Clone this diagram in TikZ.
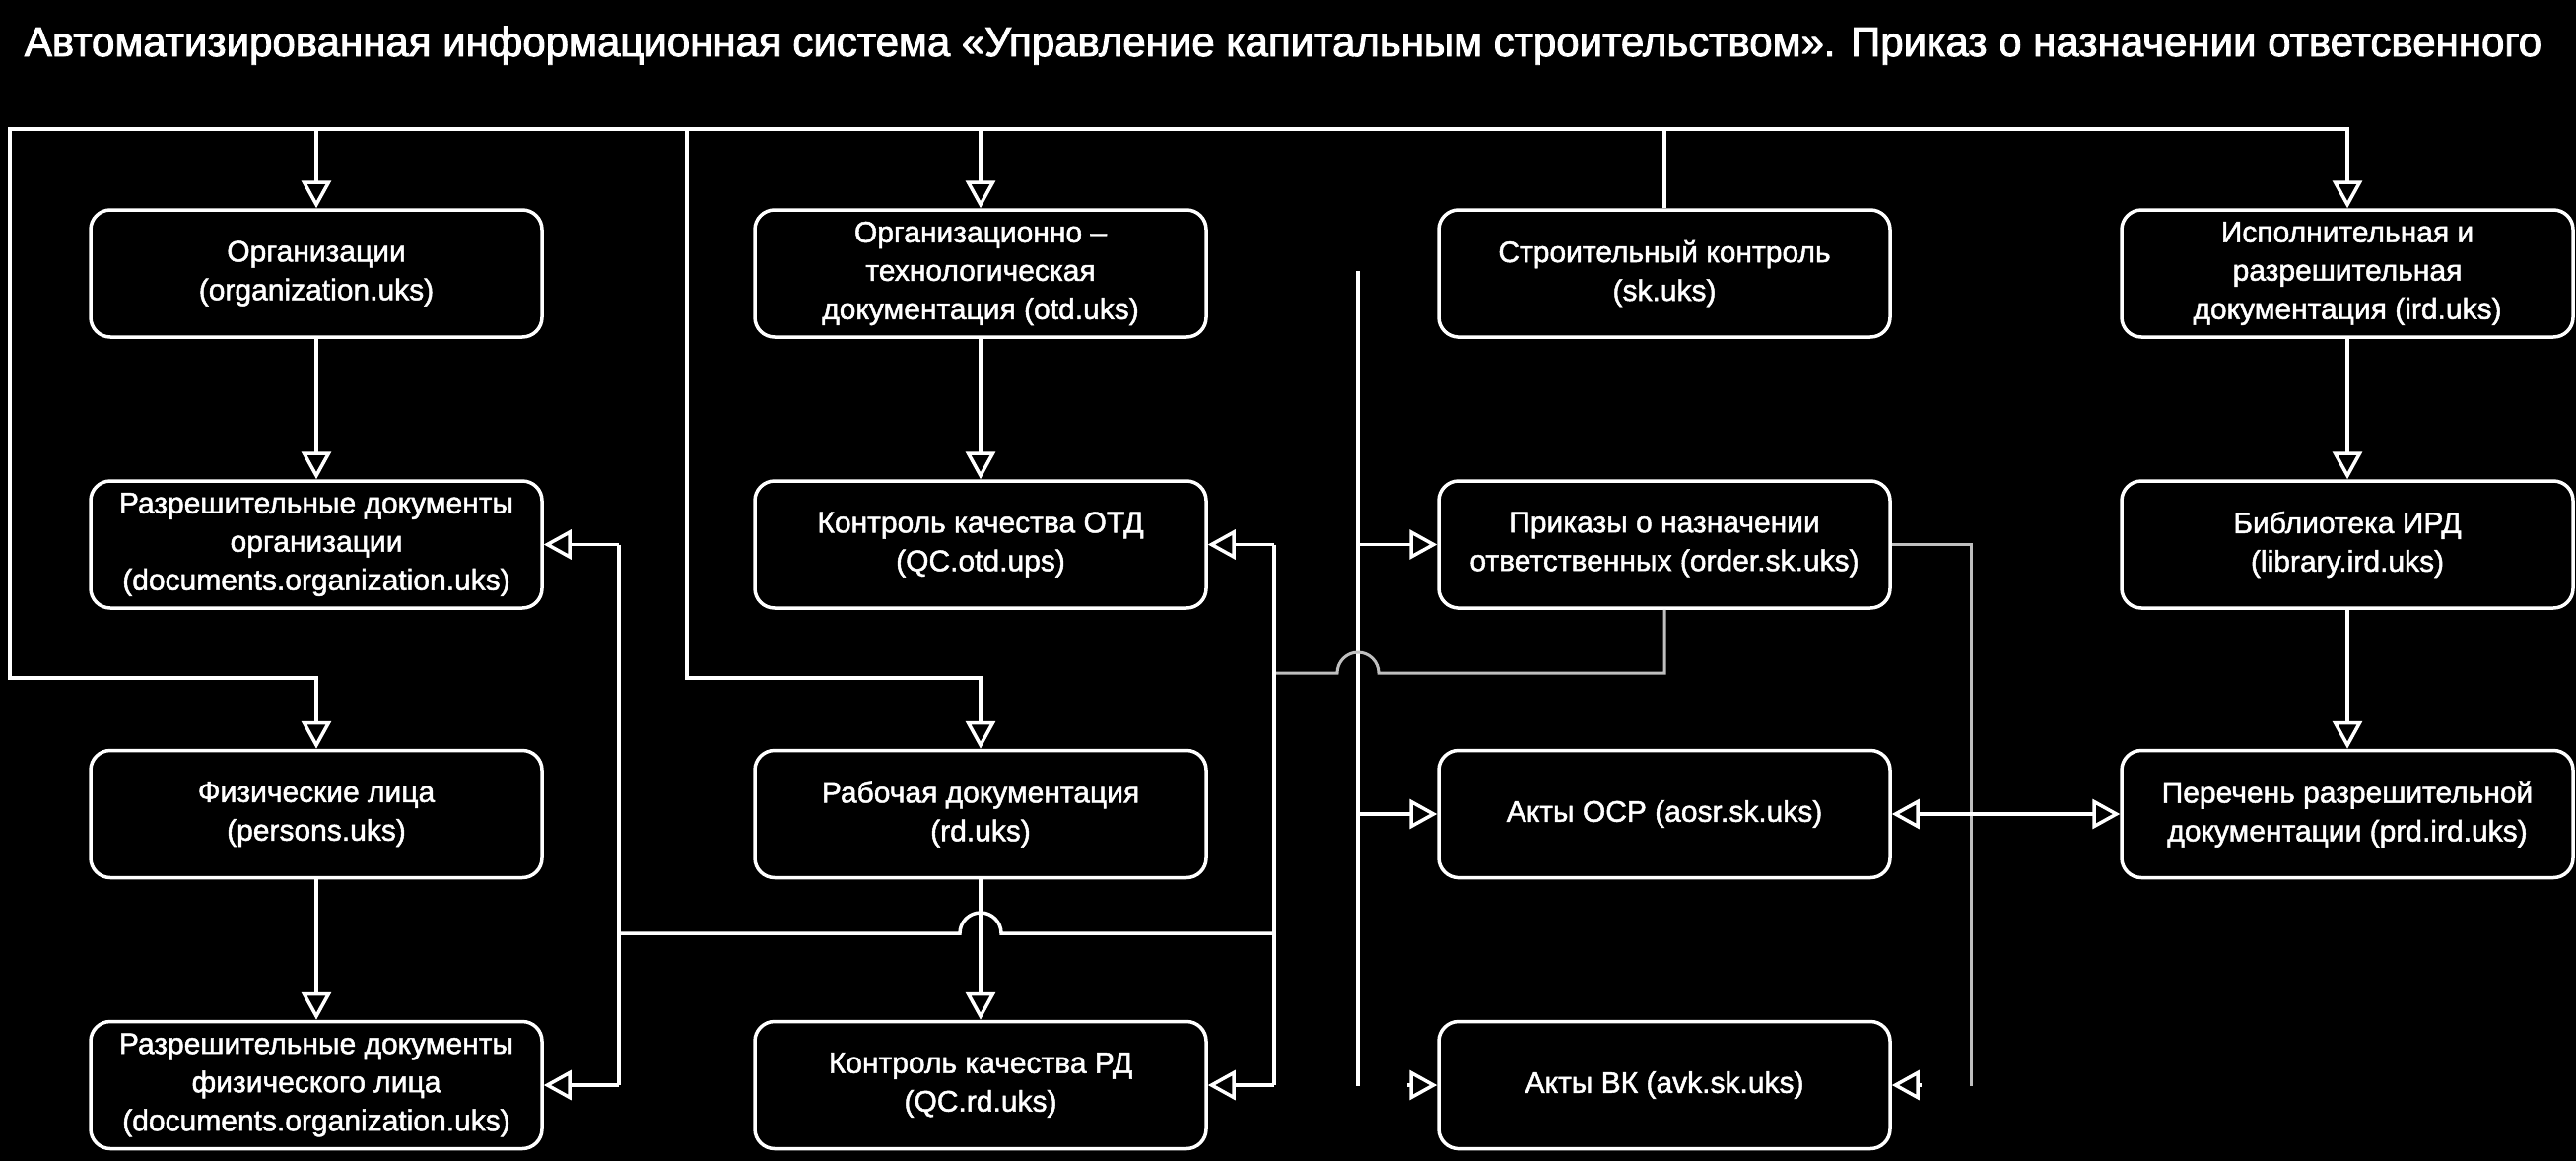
\documentclass[tikz,border=0pt]{standalone}
\usepackage{fontspec}
\setmainfont{Liberation Sans}
\newfontfamily\boxfont{Liberation Sans}[FakeBold=1.6]
\newfontfamily\titlefont{Liberation Sans}[FakeBold=2.2]
\usetikzlibrary{arrows.meta}
\begin{document}
\begin{tikzpicture}[x=1pt,y=-1pt,
  box/.style={draw=white, line width=3.5pt, rounded corners=20pt, minimum width=458pt, minimum height=129pt, align=center, text=white, font=\boxfont\fontsize{30}{39}\selectfont, inner sep=0pt},
  conn/.style={draw=white, line width=3.5pt},
  thin conn/.style={draw=white!75!black, line width=3pt},
  tip/.tip={Triangle[open, length=28pt, width=30pt]},
  arr/.style={conn, -tip},
  darr/.style={conn, tip-tip}]
\fill[black] (0,0) rectangle (2614,1178);
\useasboundingbox (0,0) rectangle (2614,1178);

\node[anchor=base, text=white, font=\titlefont\fontsize{42}{42}\selectfont] (title) at (1302,57) {Автоматизированная информационная система «Управление капитальным строительством». Приказ о назначении ответсвенного};

% row 1
\node[box] (org)  at (321,277.5)  {Организации\\(organization.uks)};
\node[box] (otd)  at (995,277.5)  {Организационно –\\технологическая\\документация (otd.uks)};
\node[box] (sk)   at (1689,277.5) {Строительный контроль\\(sk.uks)};
\node[box] (ird)  at (2382,277.5) {Исполнительная и\\разрешительная\\документация (ird.uks)};
% row 2
\node[box] (docorg) at (321,552.5)  {Разрешительные документы\\организации\\(documents.organization.uks)};
\node[box] (qcotd)  at (995,552.5)  {Контроль качества ОТД\\(QC.otd.ups)};
\node[box] (ord)    at (1689,552.5) {Приказы о назначении\\ответственных (order.sk.uks)};
\node[box] (lib)    at (2382,552.5) {Библиотека ИРД\\(library.ird.uks)};
% row 3
\node[box] (pers) at (321,826)  {Физические лица\\(persons.uks)};
\node[box] (rd)   at (995,826)  {Рабочая документация\\(rd.uks)};
\node[box] (aosr) at (1689,826) {Акты ОСР (aosr.sk.uks)};
\node[box] (prd)  at (2382,826) {Перечень разрешительной\\документации (prd.ird.uks)};
% row 4
\node[box] (docpers) at (321,1101)  {Разрешительные документы\\физического лица\\(documents.organization.uks)};
\node[box] (qcrd)    at (995,1101)  {Контроль качества РД\\(QC.rd.uks)};
\node[box] (avk)     at (1689,1101) {Акты ВК (avk.sk.uks)};

% helper coordinates
\coordinate (ytop) at (0,131);
\coordinate (L1) at (10,131);
\coordinate (L2) at (10,688);
\coordinate (M1) at (697,131);
\coordinate (M2) at (697,688);
\coordinate (V1) at (1378,275);
\coordinate (V2) at (1378,1102);
\coordinate (Rx) at (1293,0);
\coordinate (Lx) at (628,0);
\coordinate (Gx) at (2000,0);
\coordinate (hy) at (0,683);
\coordinate (gy) at (0,947);
\coordinate (by) at (0,1102);

% top bus from sk
\draw[arr] (sk.north) -- (sk.north |- ytop) -| (org.north);
\draw[arr] (sk.north) -- (sk.north |- ytop) -| (otd.north);
\draw[arr] (sk.north) -- (sk.north |- ytop) -| (ird.north);
\draw[arr] (sk.north |- ytop) -- (L1) -- (L2) -| (pers.north);
\draw[arr] (sk.north |- ytop) -- (M1) -- (M2) -| (rd.north);

% vertical links
\draw[arr] (org.south) -- (docorg.north);
\draw[arr] (otd.south) -- (qcotd.north);
\draw[arr] (ird.south) -- (lib.north);
\draw[arr] (lib.south) -- (prd.north);
\draw[arr] (pers.south) -- (docpers.north);
\draw[arr] (rd.south) -- (qcrd.north);

% sk trunk at x=1378
\draw[conn] (V1) -- (V2);
\draw[arr] (V1 |- ord.west) -- (ord.west);
\draw[arr] (V1 |- aosr.west) -- (aosr.west);
\draw[arr] ([xshift=-30pt]avk.west) -- (avk.west);

% orders bottom -> quality control and permits
\draw[thin conn] (ord.south) -- (ord.south |- hy) -- (1399,683) arc[start angle=0, end angle=180, radius=21pt] -- (Rx |- hy);
\draw[conn] (Rx |- qcotd.east) -- (Rx |- qcrd.east);
\draw[arr] (Rx |- qcotd.east) -- (qcotd.east);
\draw[arr] (Rx |- qcrd.east) -- (qcrd.east);
\draw[conn] (Rx |- gy) -- (1016,947) arc[start angle=0, end angle=180, radius=21pt] -- (Lx |- gy);
\draw[conn] (Lx |- docorg.east) -- (Lx |- docpers.east);
\draw[arr] (Lx |- docorg.east) -- (docorg.east);
\draw[arr] (Lx |- docpers.east) -- (docpers.east);

% orders right -> acts VK
\draw[thin conn] (ord.east) -- (Gx |- ord.east) -- (Gx |- by);
\draw[arr] ([xshift=30pt]avk.east) -- (avk.east);

% aosr <-> prd
\draw[darr] (aosr.east) -- (prd.west);
\end{tikzpicture}
\end{document}
